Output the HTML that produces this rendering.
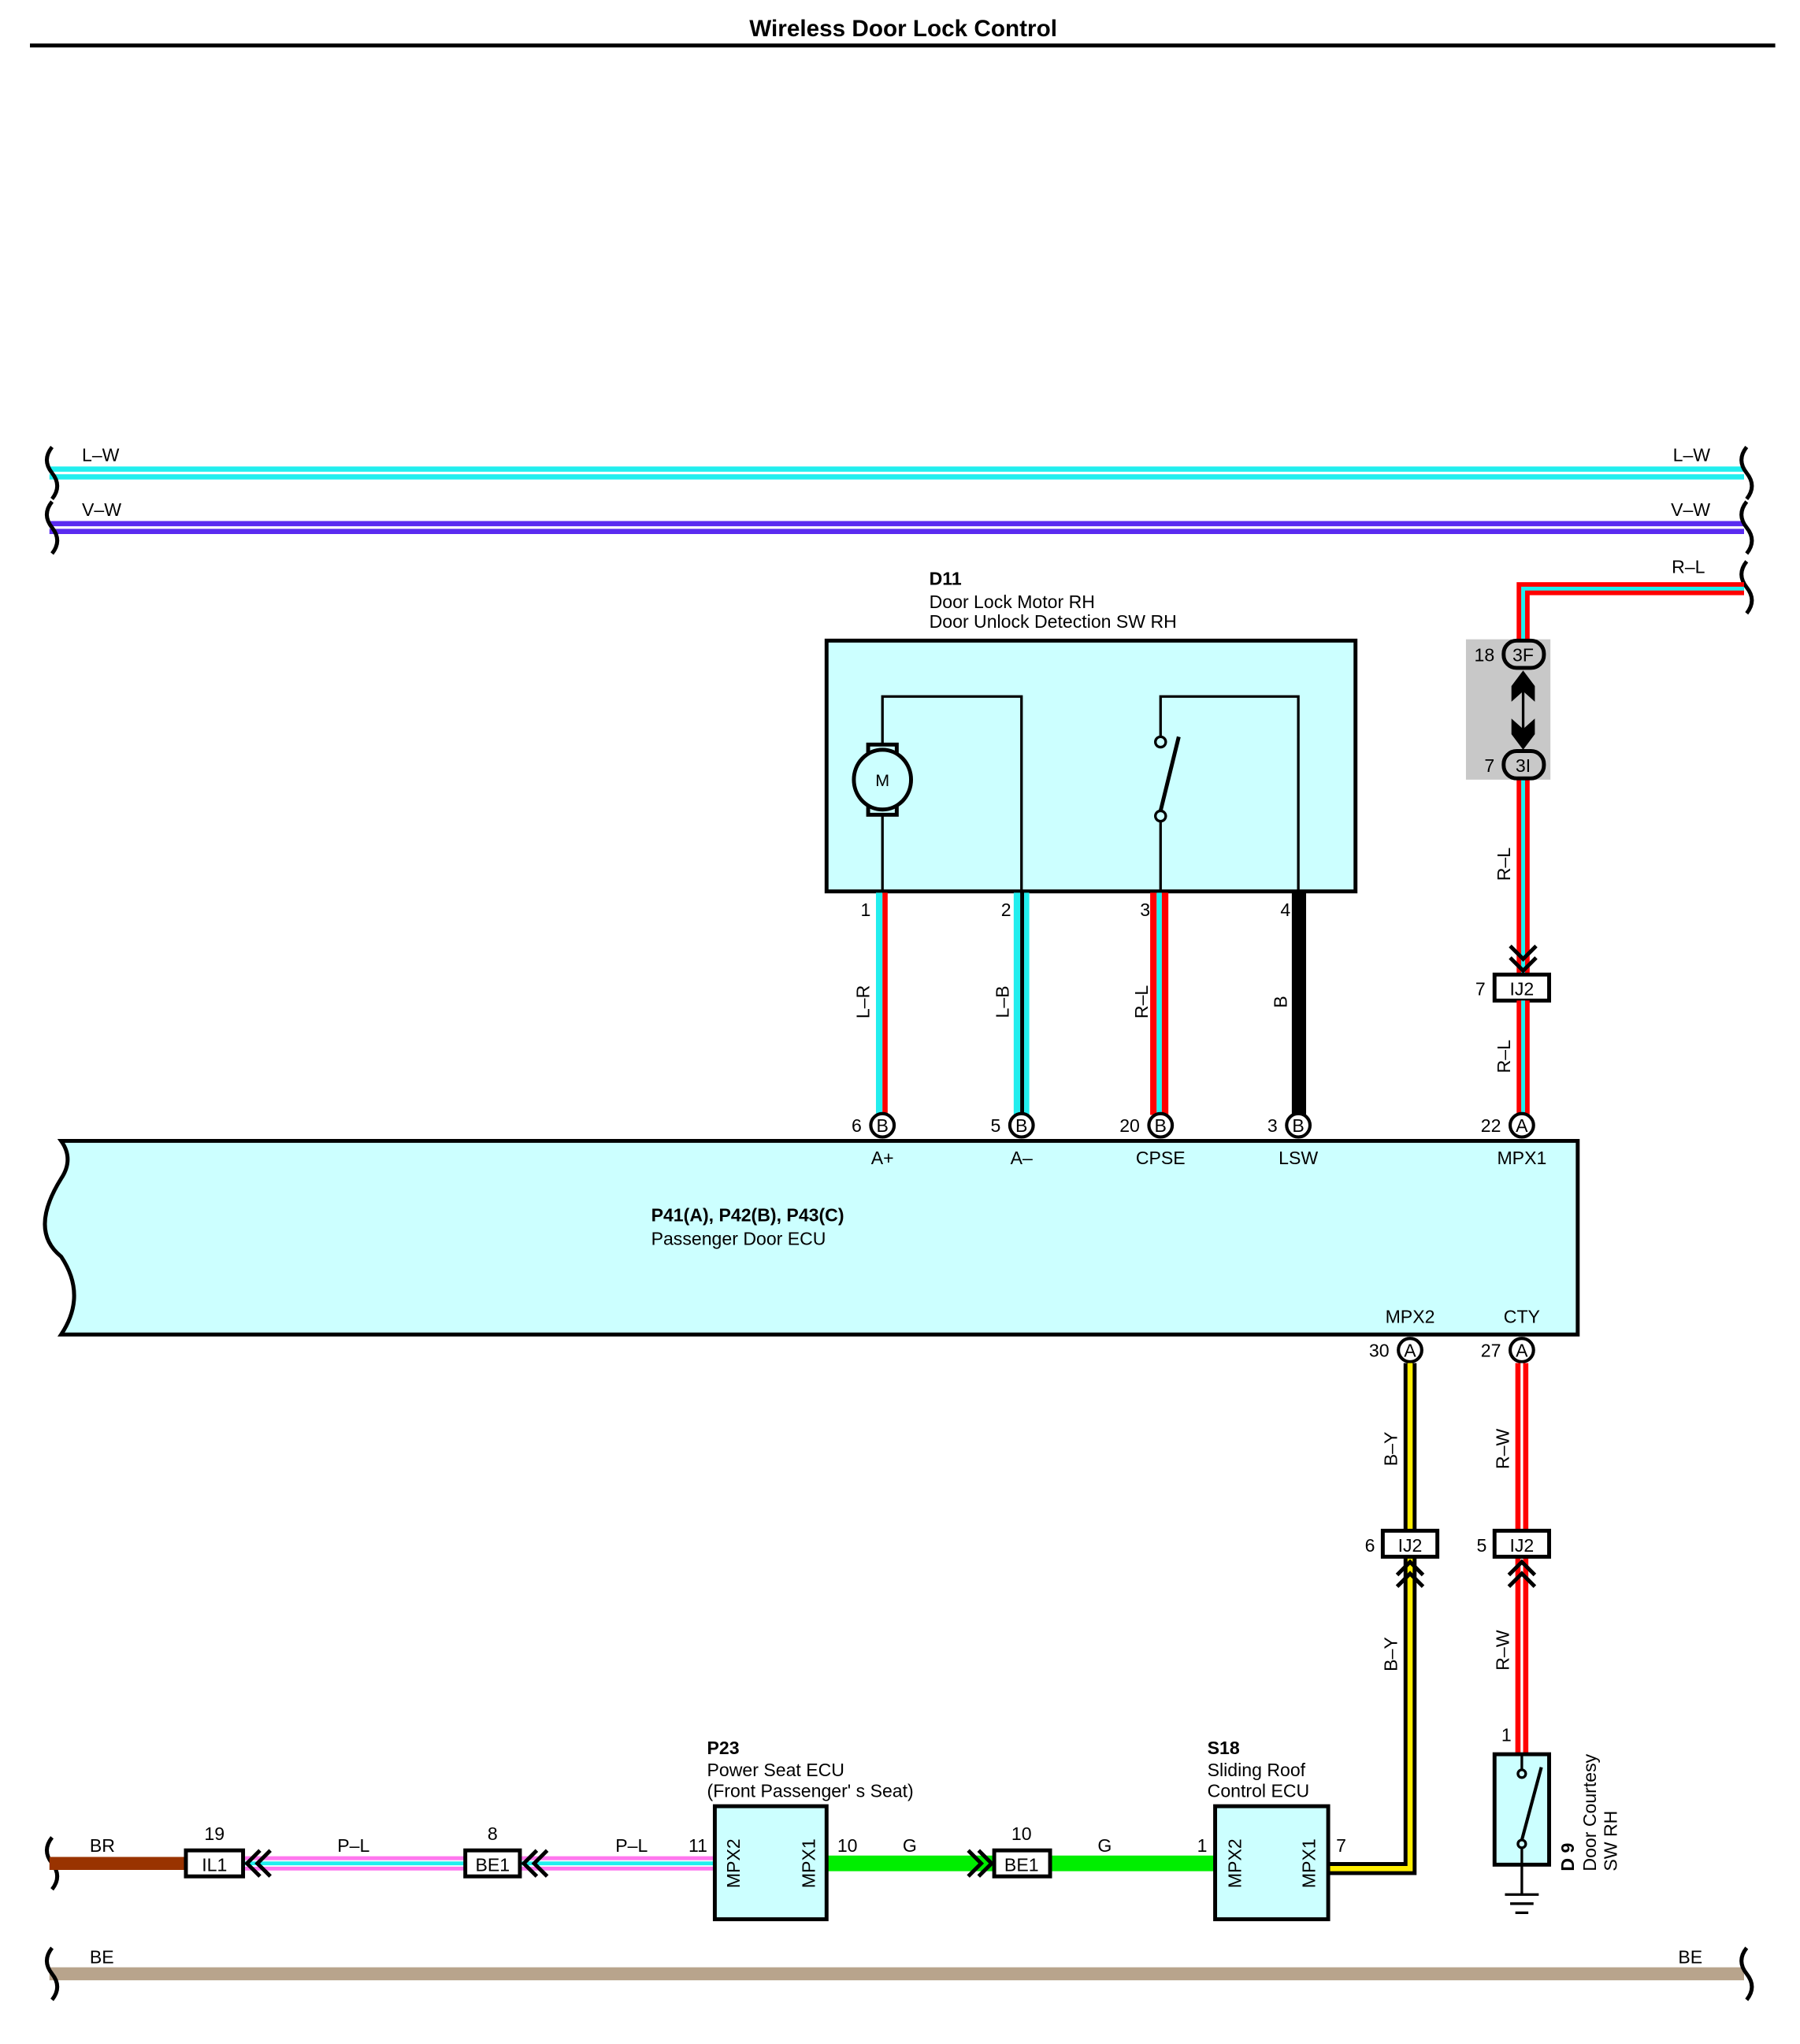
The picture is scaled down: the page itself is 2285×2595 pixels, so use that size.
<!DOCTYPE html>
<html><head><meta charset="utf-8"><style>
html,body{margin:0;padding:0;background:#fff}
svg{display:block}
text{font-family:"Liberation Sans",sans-serif;font-size:14px;fill:#000}
</style></head><body>
<svg width="2285" height="2595" viewBox="0 0 1385 1573" xmlns="http://www.w3.org/2000/svg">
<text x="695" y="28" text-anchor="middle" font-weight="bold" style="font-size:18px">Wireless Door Lock Control</text>
<line x1="23" y1="35" x2="1366" y2="35" stroke="#000" stroke-width="3"/>

<!-- buses -->
<line x1="38" y1="364" x2="1342" y2="364" stroke="#22eeee" stroke-width="10"/>
<line x1="38" y1="364" x2="1342" y2="364" stroke="#fff" stroke-width="2"/>
<text x="63" y="355">L–W</text><text x="1316" y="355" text-anchor="end">L–W</text>
<line x1="38" y1="406" x2="1342" y2="406" stroke="#5a2bf0" stroke-width="10"/>
<line x1="38" y1="406" x2="1342" y2="406" stroke="#fff" stroke-width="2"/>
<text x="63" y="397">V–W</text><text x="1316" y="397" text-anchor="end">V–W</text>
<line x1="38" y1="1519" x2="1342" y2="1519" stroke="#b8a48c" stroke-width="10"/>
<text x="69" y="1511">BE</text><text x="1310" y="1511" text-anchor="end">BE</text>
<g fill="none" stroke="#000" stroke-width="3">
<path d="M40 344 q-8 10 0 20 q8 10 0 20"/><path d="M1344 344 q-8 10 0 20 q8 10 0 20"/>
<path d="M40 386 q-8 10 0 20 q8 10 0 20"/><path d="M1344 386 q-8 10 0 20 q8 10 0 20"/>
<path d="M40 1499 q-8 10 0 20 q8 10 0 20"/><path d="M1344 1499 q-8 10 0 20 q8 10 0 20"/>
<path d="M1344 432 q-8 10 0 20 q8 10 0 20"/>
<path d="M40 1414 q-8 10 0 20 q8 10 0 20"/>
</g>

<!-- R-L top -->
<path d="M1342 453 H1172 V750" fill="none" stroke="#ff0000" stroke-width="10"/>
<path d="M1342 453 H1172 V750" fill="none" stroke="#22eeee" stroke-width="3"/>
<text x="1312" y="441" text-anchor="end">R–L</text>
<rect x="1128" y="492" width="65" height="108" fill="#c8c8c8"/>
<rect x="1157" y="493" width="31" height="21" rx="10" fill="#c8c8c8" stroke="#000" stroke-width="3"/>
<text x="1172" y="509" text-anchor="middle">3F</text><text x="1150" y="509" text-anchor="end">18</text>
<rect x="1157" y="578" width="31" height="21" rx="10" fill="#c8c8c8" stroke="#000" stroke-width="3"/>
<text x="1172" y="594" text-anchor="middle">3I</text><text x="1150" y="594" text-anchor="end">7</text>
<line x1="1172" y1="520" x2="1172" y2="572" stroke="#000" stroke-width="2"/>
<path d="M1172 516 l-9 12 v12 l9-8 l9 8 v-12z M1172 577 l-9-12 v-12 l9 8 l9-8 v12z" fill="#000"/>
<text transform="translate(1162,665) rotate(-90)" text-anchor="middle">R–L</text>
<path d="M1162 728 l10 10 l10-10 M1162 737 l10 10 l10-10" fill="none" stroke="#000" stroke-width="3"/>
<rect x="1150" y="750" width="42" height="20" fill="#fff" stroke="#000" stroke-width="3"/>
<text x="1171" y="766" text-anchor="middle">IJ2</text><text x="1143" y="766" text-anchor="end">7</text>
<line x1="1172" y1="770" x2="1172" y2="858" stroke="#ff0000" stroke-width="10"/>
<line x1="1172" y1="770" x2="1172" y2="858" stroke="#22eeee" stroke-width="3"/>
<text transform="translate(1162,813) rotate(-90)" text-anchor="middle">R–L</text>

<!-- D11 -->
<text x="715" y="450" font-weight="bold">D11</text>
<text x="715" y="468">Door Lock Motor RH</text>
<text x="715" y="483">Door Unlock Detection SW RH</text>
<rect x="636" y="493" width="407" height="193" fill="#ccffff" stroke="#000" stroke-width="3"/>
<g fill="none" stroke="#000" stroke-width="2">
<path d="M679 686 V536 H786 V686"/>
<path d="M893 686 V632 M893 567 V536 H999 V686"/>
<circle cx="893" cy="628" r="4"/><circle cx="893" cy="571" r="4"/>
<line x1="893" y1="624" x2="907" y2="567" stroke-width="3"/>
</g>
<rect x="668" y="573" width="22" height="54" fill="#ccffff" stroke="#000" stroke-width="3"/>
<ellipse cx="679" cy="600" rx="22" ry="23" fill="#ccffff" stroke="#000" stroke-width="3"/>
<text x="679" y="605" text-anchor="middle" style="font-size:13px">M</text>

<!-- D11 wires -->
<rect x="674" y="687" width="5" height="171" fill="#22eeee"/><rect x="679" y="687" width="4" height="171" fill="#ff0000"/>
<rect x="780" y="687" width="5" height="171" fill="#22eeee"/><rect x="785" y="687" width="3" height="171" fill="#000"/><rect x="788" y="687" width="4" height="171" fill="#22eeee"/>
<rect x="885" y="687" width="5" height="171" fill="#ff0000"/><rect x="890" y="687" width="4" height="171" fill="#22eeee"/><rect x="894" y="687" width="5" height="171" fill="#ff0000"/>
<rect x="994" y="687" width="11" height="171" fill="#000"/>
<text x="670" y="705" text-anchor="end">1</text><text x="778" y="705" text-anchor="end">2</text>
<text x="885" y="705" text-anchor="end">3</text><text x="993" y="705" text-anchor="end">4</text>
<text transform="translate(669,771) rotate(-90)" text-anchor="middle">L–R</text>
<text transform="translate(776,771) rotate(-90)" text-anchor="middle">L–B</text>
<text transform="translate(883,771) rotate(-90)" text-anchor="middle">R–L</text>
<text transform="translate(990,771) rotate(-90)" text-anchor="middle">B</text>

<!-- ECU -->
<path d="M47 878 H1214 V1027 H47 q20-30 0-60 q-25-20 0-60 q10-15 0-29z" fill="#ccffff" stroke="#000" stroke-width="3"/>
<text x="501" y="940" font-weight="bold">P41(A), P42(B), P43(C)</text>
<text x="501" y="958">Passenger Door ECU</text>
<g stroke="#000" stroke-width="2.5" fill="#fff">
<circle cx="679" cy="866" r="9"/><circle cx="786" cy="866" r="9"/><circle cx="893" cy="866" r="9"/><circle cx="999" cy="866" r="9"/><circle cx="1171" cy="866" r="9"/>
<circle cx="1085" cy="1039" r="9"/><circle cx="1171" cy="1039" r="9"/>
</g>
<g text-anchor="middle" style="font-size:12px">
<text x="679" y="871">B</text><text x="786" y="871">B</text><text x="893" y="871">B</text><text x="999" y="871">B</text><text x="1171" y="871">A</text>
<text x="1085" y="1044">A</text><text x="1171" y="1044">A</text>
</g>
<text x="663" y="871" text-anchor="end">6</text><text x="770" y="871" text-anchor="end">5</text>
<text x="877" y="871" text-anchor="end">20</text><text x="983" y="871" text-anchor="end">3</text><text x="1155" y="871" text-anchor="end">22</text>
<text x="1069" y="1044" text-anchor="end">30</text><text x="1155" y="1044" text-anchor="end">27</text>
<g text-anchor="middle">
<text x="679" y="896">A+</text><text x="786" y="896">A–</text><text x="893" y="896">CPSE</text><text x="999" y="896">LSW</text><text x="1171" y="896">MPX1</text>
<text x="1085" y="1018">MPX2</text><text x="1171" y="1018">CTY</text>
</g>

<!-- B-Y -->
<path d="M1085 1049 V1438 H1022" fill="none" stroke="#000" stroke-width="10"/>
<path d="M1085 1049 V1438 H1022" fill="none" stroke="#ffee00" stroke-width="4"/>
<text transform="translate(1075,1115) rotate(-90)" text-anchor="middle">B–Y</text>
<text transform="translate(1075,1273) rotate(-90)" text-anchor="middle">B–Y</text>
<rect x="1064" y="1178" width="42" height="20" fill="#fff" stroke="#000" stroke-width="3"/>
<text x="1085" y="1194" text-anchor="middle">IJ2</text><text x="1058" y="1194" text-anchor="end">6</text>
<!-- R-W -->
<line x1="1171" y1="1049" x2="1171" y2="1350" stroke="#ff0000" stroke-width="10"/>
<line x1="1171" y1="1049" x2="1171" y2="1350" stroke="#fff" stroke-width="2"/>
<text transform="translate(1161,1115) rotate(-90)" text-anchor="middle">R–W</text>
<text transform="translate(1161,1270) rotate(-90)" text-anchor="middle">R–W</text>
<rect x="1150" y="1178" width="42" height="20" fill="#fff" stroke="#000" stroke-width="3"/>
<text x="1171" y="1194" text-anchor="middle">IJ2</text><text x="1144" y="1194" text-anchor="end">5</text>
<path d="M1075 1212 l10-10 l10 10 M1075 1221 l10-10 l10 10 M1161 1212 l10-10 l10 10 M1161 1221 l10-10 l10 10" fill="none" stroke="#000" stroke-width="3"/>

<!-- D9 -->
<text x="1163" y="1340" text-anchor="end">1</text>
<rect x="1150" y="1350" width="42" height="85" fill="#ccffff" stroke="#000" stroke-width="3"/>
<g fill="none" stroke="#000" stroke-width="2">
<line x1="1171" y1="1350" x2="1171" y2="1362"/><circle cx="1171" cy="1365" r="3"/>
<line x1="1171" y1="1416" x2="1186" y2="1360" stroke-width="2.5"/><circle cx="1171" cy="1419" r="3"/>
<line x1="1171" y1="1422" x2="1171" y2="1458"/>
<line x1="1158" y1="1458" x2="1184" y2="1458"/><line x1="1162" y1="1465" x2="1180" y2="1465"/><line x1="1166" y1="1472" x2="1176" y2="1472"/>
</g>
<text transform="translate(1211,1440) rotate(-90)" font-weight="bold">D 9</text>
<text transform="translate(1228,1440) rotate(-90)">Door Courtesy</text>
<text transform="translate(1244,1440) rotate(-90)">SW RH</text>

<!-- bottom wires -->
<line x1="38" y1="1434" x2="143" y2="1434" stroke="#993300" stroke-width="10"/>
<text x="69" y="1425">BR</text>
<g>
<line x1="187" y1="1434" x2="550" y2="1434" stroke="#ff77ee" stroke-width="11"/>
<line x1="187" y1="1434" x2="550" y2="1434" stroke="#fff" stroke-width="5"/>
<line x1="187" y1="1434" x2="550" y2="1434" stroke="#22eeee" stroke-width="3"/>
</g>
<line x1="636" y1="1434" x2="935" y2="1434" stroke="#00ee00" stroke-width="12"/>
<rect x="143" y="1424" width="44" height="20" fill="#fff" stroke="#000" stroke-width="3"/>
<text x="165" y="1440" text-anchor="middle">IL1</text><text x="165" y="1416" text-anchor="middle">19</text>
<rect x="358" y="1424" width="42" height="20" fill="#fff" stroke="#000" stroke-width="3"/>
<text x="379" y="1440" text-anchor="middle">BE1</text><text x="379" y="1416" text-anchor="middle">8</text>
<rect x="765" y="1424" width="43" height="20" fill="#fff" stroke="#000" stroke-width="3"/>
<text x="786" y="1440" text-anchor="middle">BE1</text><text x="786" y="1416" text-anchor="middle">10</text>
<path d="M200 1424 l-10 10 l10 10 M208 1424 l-10 10 l10 10 M413 1424 l-10 10 l10 10 M421 1424 l-10 10 l10 10 M745 1424 l10 10 l-10 10 M753 1424 l10 10 l-10 10" fill="none" stroke="#000" stroke-width="3"/>
<text x="272" y="1425" text-anchor="middle">P–L</text><text x="486" y="1425" text-anchor="middle">P–L</text>
<text x="537" y="1425" text-anchor="middle">11</text>
<text x="652" y="1425" text-anchor="middle">10</text><text x="700" y="1425" text-anchor="middle">G</text>
<text x="850" y="1425" text-anchor="middle">G</text><text x="925" y="1425" text-anchor="middle">1</text>
<text x="1032" y="1425" text-anchor="middle">7</text>

<!-- P23 -->
<text x="544" y="1350" font-weight="bold">P23</text>
<text x="544" y="1367">Power Seat ECU</text>
<text x="544" y="1383">(Front Passenger'  s Seat)</text>
<rect x="550" y="1390" width="86" height="87" fill="#ccffff" stroke="#000" stroke-width="3"/>
<text transform="translate(569,1434) rotate(-90)" text-anchor="middle">MPX2</text>
<text transform="translate(627,1434) rotate(-90)" text-anchor="middle">MPX1</text>
<!-- S18 -->
<text x="929" y="1350" font-weight="bold">S18</text>
<text x="929" y="1367">Sliding Roof</text>
<text x="929" y="1383">Control ECU</text>
<rect x="935" y="1390" width="87" height="87" fill="#ccffff" stroke="#000" stroke-width="3"/>
<text transform="translate(955,1434) rotate(-90)" text-anchor="middle">MPX2</text>
<text transform="translate(1012,1434) rotate(-90)" text-anchor="middle">MPX1</text>
</svg>
</body></html>
